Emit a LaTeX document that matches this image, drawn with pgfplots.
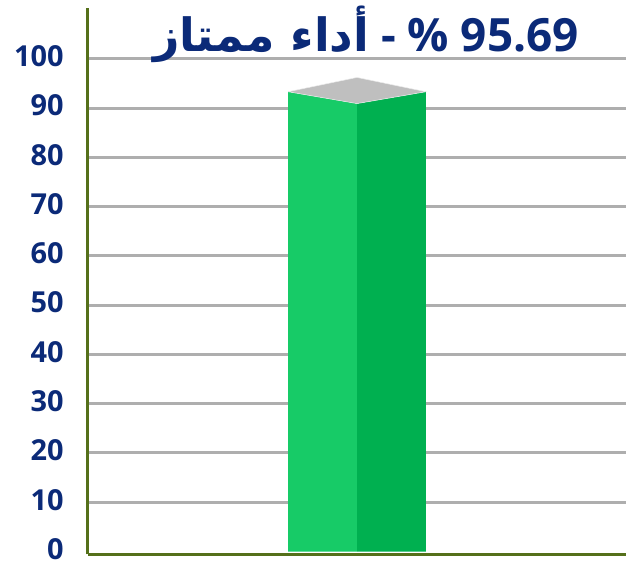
\documentclass[border=0pt]{standalone}
\usepackage{fontspec}
\setmainfont{Open Sans}
\newfontfamily\arabicfont[Script=Arabic]{DejaVu Sans}
\TeXXeTstate=1
\usepackage{pgfplots}
\pgfplotsset{compat=1.18}
\definecolor{navy}{HTML}{0B2A78}
\definecolor{olive}{HTML}{55701A}
\definecolor{gridgray}{HTML}{AEAEAE}
\definecolor{greenL}{HTML}{17CB67}
\definecolor{greenD}{HTML}{00B050}
\definecolor{topgray}{HTML}{BFBFBF}
\begin{document}
\begin{tikzpicture}[x=1pt,y=1pt]
\path (0,0) rectangle (628,564);
\begin{axis}[
  at={(88pt,8pt)}, anchor=south west,
  scale only axis, width=540pt, height=548pt,
  xmin=0, xmax=1, ymin=-0.6, ymax=110.3,
  axis x line=bottom, axis y line=left,
  axis line style={-, olive, line width=3.4pt},
  xtick=\empty,
  ytick={10,20,...,100},
  extra y ticks={0},
  extra y tick style={grid=none},
  major tick length=0pt,
  ymajorgrids, grid style={gridgray, line width=3pt},
  /pgf/number format/assume math mode=true,
  yticklabel style={font=\fontsize{29}{31}\selectfont\bfseries, text=navy, anchor=east, inner sep=0pt, xshift=-24pt, yshift=2.5pt},
  clip=false,
]
\addplot[fill=greenL, draw=none] coordinates {(0.372,0) (0.5,0) (0.5,90.9) (0.372,93.3) (0.372,0)};
\addplot[fill=greenD, draw=none] coordinates {(0.5,0) (0.628,0) (0.628,93.3) (0.5,90.9) (0.5,0)};
\addplot[fill=topgray, draw=white!85!gray, line width=0.5pt] coordinates {(0.372,93.3) (0.5,96.2) (0.628,93.3) (0.5,90.9) (0.372,93.3)};
\end{axis}
\node[text=navy, font=\fontsize{46}{50}\selectfont\bfseries, inner sep=0pt] at (367,530)
  {{\arabicfont\bfseries\beginR أداء ممتاز\endR} - \% 95.69};
\end{tikzpicture}
\end{document}
